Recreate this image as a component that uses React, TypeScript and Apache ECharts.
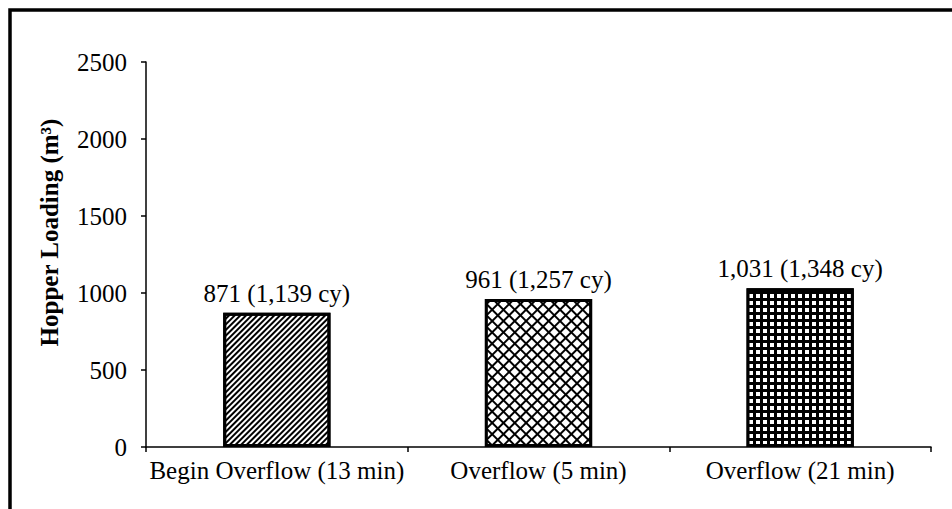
import React, { useEffect, useRef } from "react";
import * as echarts from "echarts";

const categories = ["Begin Overflow (13 min)", "Overflow (5 min)", "Overflow (21 min)"];
const valuesM3 = [871, 961, 1031];
const valuesLabel = ["871", "961", "1,031"];
const valuesCy = ["1,139", "1,257", "1,348"];
const yTicks = [0, 500, 1000, 1500, 2000, 2500];

const FONT = "'Liberation Serif', 'Times New Roman', serif";

const barFills = ["#fff", "#000", "#000"];
const decals = [
  {
    symbol: "rect",
    symbolSize: 1,
    dashArrayX: [1, 0],
    dashArrayY: [1.4, 1.9],
    rotation: -Math.PI / 4,
    color: "#000",
  },
  {
    symbol: "rect",
    symbolSize: 1,
    dashArrayX: [6, 1.6],
    dashArrayY: [6, 1.6],
    rotation: Math.PI / 4,
    color: "#fff",
  },
  {
    symbol: "rect",
    symbolSize: 1,
    dashArrayX: [4, 2.3],
    dashArrayY: [4, 2.3],
    rotation: 0,
    color: "#fff",
  },
];

export default function App() {
  const ref = useRef<HTMLDivElement>(null);
  useEffect(() => {
    if (!ref.current) return;
    const chart = echarts.init(ref.current, undefined, { renderer: "svg" });
    chart.setOption({
      animation: false,
      backgroundColor: "#fff",
      textStyle: { fontFamily: FONT },
      graphic: [
        {
          type: "rect",
          shape: { x: 10, y: 10, width: 1000, height: 600 },
          style: { fill: "none", stroke: "#000", lineWidth: 3.5 },
          silent: true,
        },
      ],
      grid: { left: 146, right: 21, top: 62, bottom: 62, containLabel: false },
      xAxis: {
        type: "category",
        data: categories,
        axisLine: { lineStyle: { color: "#000", width: 1.5 } },
        axisTick: { show: true, alignWithLabel: false, length: 5, lineStyle: { color: "#000", width: 1.5 } },
        axisLabel: { color: "#000", fontSize: 25, fontFamily: FONT, margin: 11, interval: 0 },
      },
      yAxis: {
        type: "value",
        min: 0,
        max: 2500,
        interval: 500,
        name: "Hopper Loading (m³)",
        nameLocation: "middle",
        nameGap: 84,
        nameTextStyle: {
          color: "#000",
          fontSize: 25,
          fontWeight: "bold",
          fontFamily: FONT,
          padding: [0, 0, 0, 44],
        },
        axisLine: { show: true, lineStyle: { color: "#000", width: 1.5 } },
        axisTick: { show: true, length: 5, lineStyle: { color: "#000", width: 1.5 } },
        axisLabel: {
          color: "#000",
          fontSize: 25,
          fontFamily: FONT,
          margin: 19,
          formatter: (v: number) => (yTicks.includes(v) ? String(v) : ""),
        },
        splitLine: { show: false },
      },
      series: [
        {
          type: "bar",
          barWidth: "41%",
          data: valuesM3.map((v, i) => ({
            value: v,
            itemStyle: {
              color: barFills[i],
              borderColor: "#000",
              borderWidth: 3,
              decal: decals[i],
            },
          })),
          label: {
            show: true,
            position: "top",
            distance: 7,
            color: "#000",
            fontSize: 25,
            fontFamily: FONT,
            formatter: (p: any) => `${valuesLabel[p.dataIndex]} (${valuesCy[p.dataIndex]} cy)`,
          },
        },
      ],
    });
    return () => chart.dispose();
  }, []);
  return (
    <div
      ref={ref}
      style={{ position: "absolute", left: 0, top: 0, width: 952, height: 509 }}
    />
  );
}
